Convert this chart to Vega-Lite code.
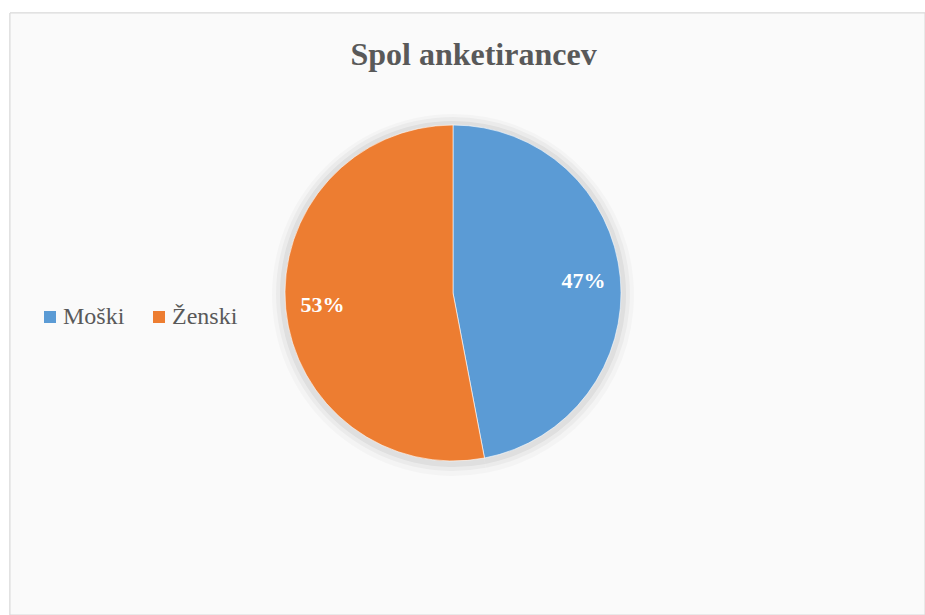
{
  "$schema": "https://vega.github.io/schema/vega-lite/v6.json",
  "width": 915,
  "height": 602,
  "autosize": {"type": "none"},
  "padding": {"left": 10, "top": 13, "right": 0, "bottom": 0},
  "background": "#ffffff",
  "config": {"view": {"stroke": null}},
  "title": {
    "text": "Spol anketirancev",
    "font": "Liberation Serif",
    "fontSize": 32,
    "fontWeight": "bold",
    "color": "#595959",
    "anchor": "middle",
    "frame": "group",
    "orient": "top",
    "offset": 0,
    "baseline": "alphabetic",
    "dy": 84,
    "dx": 6
  },
  "data": {"values": [
    {"spol": "Moški", "delez": 0.47},
    {"spol": "Ženski", "delez": 0.53}
  ]},
  "layer": [
    {"mark": {"type": "rect", "fill": "#fafafa", "stroke": "#d9d9d9", "strokeWidth": 1}, "encoding": {}},
    {"mark": {"type": "arc", "outerRadius": 181, "xOffset": -14.5, "yOffset": -19, "opacity": 0.025, "color": "#000000"}, "encoding": {"theta": {"field": "delez", "type": "quantitative", "stack": true}}},
    {"mark": {"type": "arc", "outerRadius": 177, "xOffset": -14.5, "yOffset": -20, "opacity": 0.035, "color": "#000000"}, "encoding": {"theta": {"field": "delez", "type": "quantitative", "stack": true}}},
    {"mark": {"type": "arc", "outerRadius": 173, "xOffset": -14.5, "yOffset": -20, "opacity": 0.05, "color": "#000000"}, "encoding": {"theta": {"field": "delez", "type": "quantitative", "stack": true}}},
    {
      "mark": {"type": "arc", "outerRadius": 168, "xOffset": -14.5, "yOffset": -21, "stroke": "#ffffff", "strokeWidth": 0.6},
      "encoding": {
        "theta": {"field": "delez", "type": "quantitative", "stack": true},
        "color": {
          "field": "spol",
          "type": "nominal",
          "scale": {"domain": ["Moški", "Ženski"], "range": ["#5b9bd5", "#ed7d31"]},
          "legend": {
            "title": null,
            "orient": "none",
            "direction": "horizontal",
            "legendX": 28,
            "legendY": 292,
            "padding": 0,
            "symbolType": "square",
            "symbolSize": 144,
            "symbolStrokeWidth": 0,
            "labelFont": "Liberation Serif",
            "labelFontSize": 24,
            "labelColor": "#595959",
            "labelOffset": 1,
            "columnPadding": 22
          }
        }
      }
    },
    {
      "mark": {"type": "text", "radius": 131, "xOffset": -14.5, "yOffset": -21, "font": "Liberation Serif", "fontSize": 22, "fontWeight": "bold", "fill": "#ffffff", "align": "center", "baseline": "middle"},
      "encoding": {
        "theta": {"field": "delez", "type": "quantitative", "stack": true},
        "text": {"field": "delez", "type": "quantitative", "format": ".0%"}
      }
    }
  ]
}
